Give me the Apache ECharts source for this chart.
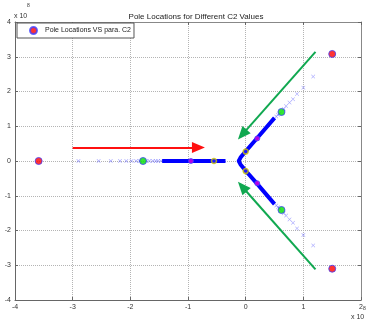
<!DOCTYPE html>
<html>
<head>
<meta charset="utf-8">
<script src="https://cdn.jsdelivr.net/npm/echarts@6/dist/echarts.min.js"></script>
<style>
  html, body { margin: 0; padding: 0; background: #fff; }
  #chart { width: 366px; height: 323px; }
</style>
</head>
<body>
<div id="chart"></div>
<script>
// values are in units of 1e8
const redPoles = [[-3.59, 0], [1.50, 3.08], [1.50, -3.10]];
const greenPoles = [[-1.78, 0], [0.62, 1.41], [0.62, -1.41]];
const magentaPoles = [[-0.95, 0], [0.20, 0.65], [0.20, -0.64]];
const yellowPoles = [[-0.55, 0], [0.0, 0.27], [0.0, -0.29]];

// sparse root-locus samples (drawn as crosses)
const locusCrosses = [
  [-2.90, 0], [-2.55, 0], [-2.34, 0], [-2.18, 0], [-2.07, 0], [-1.98, 0], [-1.90, 0], [-1.84, 0],
  [-1.72, 0], [-1.67, 0], [-1.61, 0], [-1.56, 0], [-1.52, 0], [-1.47, 0],
  [0.53, 1.28], [0.56, 1.33], [0.59, 1.37], [0.66, 1.50], [0.70, 1.58], [0.76, 1.68], [0.82, 1.78], [0.89, 1.93], [1.00, 2.11], [1.17, 2.43],
  [0.53, -1.28], [0.56, -1.33], [0.59, -1.37], [0.66, -1.50], [0.70, -1.57], [0.76, -1.68], [0.82, -1.78], [0.89, -1.94], [1.00, -2.13], [1.17, -2.43]
];
// dense parts of the locus (samples overlap into a thick line)
const realSegment = [[-1.45, 0], [-0.35, 0]];
const branchSegment = [[0.50, 1.24], [0.20, 0.66], [0.0, 0.28], [-0.09, 0.10], [-0.12, 0], [-0.09, -0.10], [0.0, -0.28], [0.20, -0.66], [0.50, -1.24]];

// arrows: [start, end]
const redArrow = [[-3.0, 0.39], [-0.82, 0.39]];
const greenArrowUp = [[1.21, 3.14], [-0.06, 0.76]];
const greenArrowDown = [[1.21, -3.12], [-0.06, -0.74]];

const xTicks = { min: -4, max: 2, interval: 1 };
const yTicks = { min: -4, max: 4, interval: 1 };

const crossPath = 'path://M0,1L1,0L5,4L9,0L10,1L6,5L10,9L9,10L5,6L1,10L0,9L4,5Z';
const font = 'Liberation Sans, Arial, sans-serif';

function arrow(pts, color) {
  return [{ coord: pts[0], lineStyle: { color: color } }, { coord: pts[1] }];
}

let chart = echarts.init(document.getElementById('chart'), null, { renderer: 'canvas' });
let option = {
  backgroundColor: '#fff',
  animation: false,
  textStyle: { fontFamily: font },
  title: {
    text: 'Pole Locations for Different C2 Values',
    left: 191, top: 8, textAlign: 'center',
    textStyle: { fontSize: 8, fontWeight: 'normal', color: '#222', fontFamily: font }
  },
  legend: {
    data: ['Pole Locations VS para. C2'],
    left: 17, top: 23,
    orient: 'vertical',
    padding: [3, 3, 3, 12],
    itemWidth: 7, itemHeight: 7,
    borderColor: '#555', borderWidth: 1, borderRadius: 0,
    backgroundColor: '#fff',
    textStyle: { fontSize: 7, color: '#222', padding: [0, 0, 0, 3], fontFamily: font }
  },
  grid: { left: 15, right: 0, top: 22, bottom: 23 },
  xAxis: [{
    type: 'value', min: xTicks.min, max: xTicks.max, interval: xTicks.interval,
    position: 'bottom',
    axisLine: { onZero: false, lineStyle: { color: '#666' } },
    axisTick: { inside: true, length: 3, lineStyle: { color: '#666' } },
    axisLabel: { fontSize: 7, color: '#333', margin: 4 },
    splitLine: { show: true, lineStyle: { color: '#b4b4b4', type: 'dotted' } }
  }, {
    type: 'value', min: xTicks.min, max: xTicks.max, interval: xTicks.interval,
    position: 'top',
    axisLine: { onZero: false, lineStyle: { color: '#888' } },
    axisTick: { inside: true, length: 3, lineStyle: { color: '#666' } },
    axisLabel: { show: false },
    splitLine: { show: false }
  }],
  yAxis: [{
    type: 'value', min: yTicks.min, max: yTicks.max, interval: yTicks.interval,
    position: 'left',
    axisLine: { show: true, onZero: false, lineStyle: { color: '#666' } },
    axisTick: { show: true, inside: true, length: 3, lineStyle: { color: '#666' } },
    axisLabel: { fontSize: 7, color: '#333', margin: 4 },
    splitLine: { show: true, lineStyle: { color: '#b4b4b4', type: 'dotted' } }
  }, {
    type: 'value', min: yTicks.min, max: yTicks.max, interval: yTicks.interval,
    position: 'right',
    axisLine: { show: true, onZero: false, lineStyle: { color: '#888' } },
    axisTick: { show: true, inside: true, length: 3, lineStyle: { color: '#666' } },
    axisLabel: { show: false },
    splitLine: { show: false }
  }],
  series: [
    {
      name: 'locusLine1', type: 'line', data: realSegment, symbol: 'none',
      lineStyle: { color: '#0000ff', width: 4 }, z: 2
    },
    {
      name: 'locusLine2', type: 'line', data: branchSegment, symbol: 'none',
      lineStyle: { color: '#0000ff', width: 4, join: 'round' }, z: 2
    },
    {
      name: 'locusCross', type: 'scatter', data: locusCrosses, symbol: crossPath, symbolSize: 4,
      itemStyle: { color: 'rgba(80,80,255,0.65)' }, z: 2
    },
    {
      name: 'arrows', type: 'line', data: [], symbol: 'none', z: 3,
      markLine: {
        silent: true, animation: false,
        symbol: ['none', 'triangle'], symbolSize: [11, 13],
        label: { show: false },
        lineStyle: { width: 2, type: 'solid' },
        data: [
          arrow(redArrow, '#ff1010'),
          arrow(greenArrowUp, '#10a850'),
          arrow(greenArrowDown, '#10a850')
        ]
      }
    },
    {
      name: 'greenPoles', type: 'scatter', data: greenPoles, symbol: 'circle', symbolSize: 7,
      itemStyle: { color: '#00e000', borderColor: '#4040ff', borderWidth: 1 }, z: 5
    },
    {
      name: 'magentaPoles', type: 'scatter', data: magentaPoles, symbol: 'circle', symbolSize: 5,
      itemStyle: { color: '#e000e0', borderColor: '#4040ff', borderWidth: 1 }, z: 5
    },
    {
      name: 'yellowPoles', type: 'scatter', data: yellowPoles, symbol: 'circle', symbolSize: 5,
      itemStyle: { color: '#2020ff', borderColor: '#d0c800', borderWidth: 1.5 }, z: 5
    },
    {
      name: 'Pole Locations VS para. C2', type: 'scatter', data: redPoles, symbol: 'circle', symbolSize: 7,
      itemStyle: { color: '#ff0000', borderColor: '#4040ff', borderWidth: 1 }, z: 6
    }
  ],
  graphic: [
    { type: 'text', left: 14, top: 13, style: { text: 'x 10', fontSize: 7, fill: '#333', fontFamily: font } },
    { type: 'text', left: 27, top: 3, style: { text: '8', fontSize: 5, fill: '#333', fontFamily: font } },
    { type: 'text', left: 351, top: 314, style: { text: 'x 10', fontSize: 7, fill: '#333', fontFamily: font } },
    { type: 'text', left: 363, top: 306, style: { text: '8', fontSize: 5, fill: '#333', fontFamily: font } }
  ]
};
chart.setOption(option, true);
</script>
</body>
</html>
